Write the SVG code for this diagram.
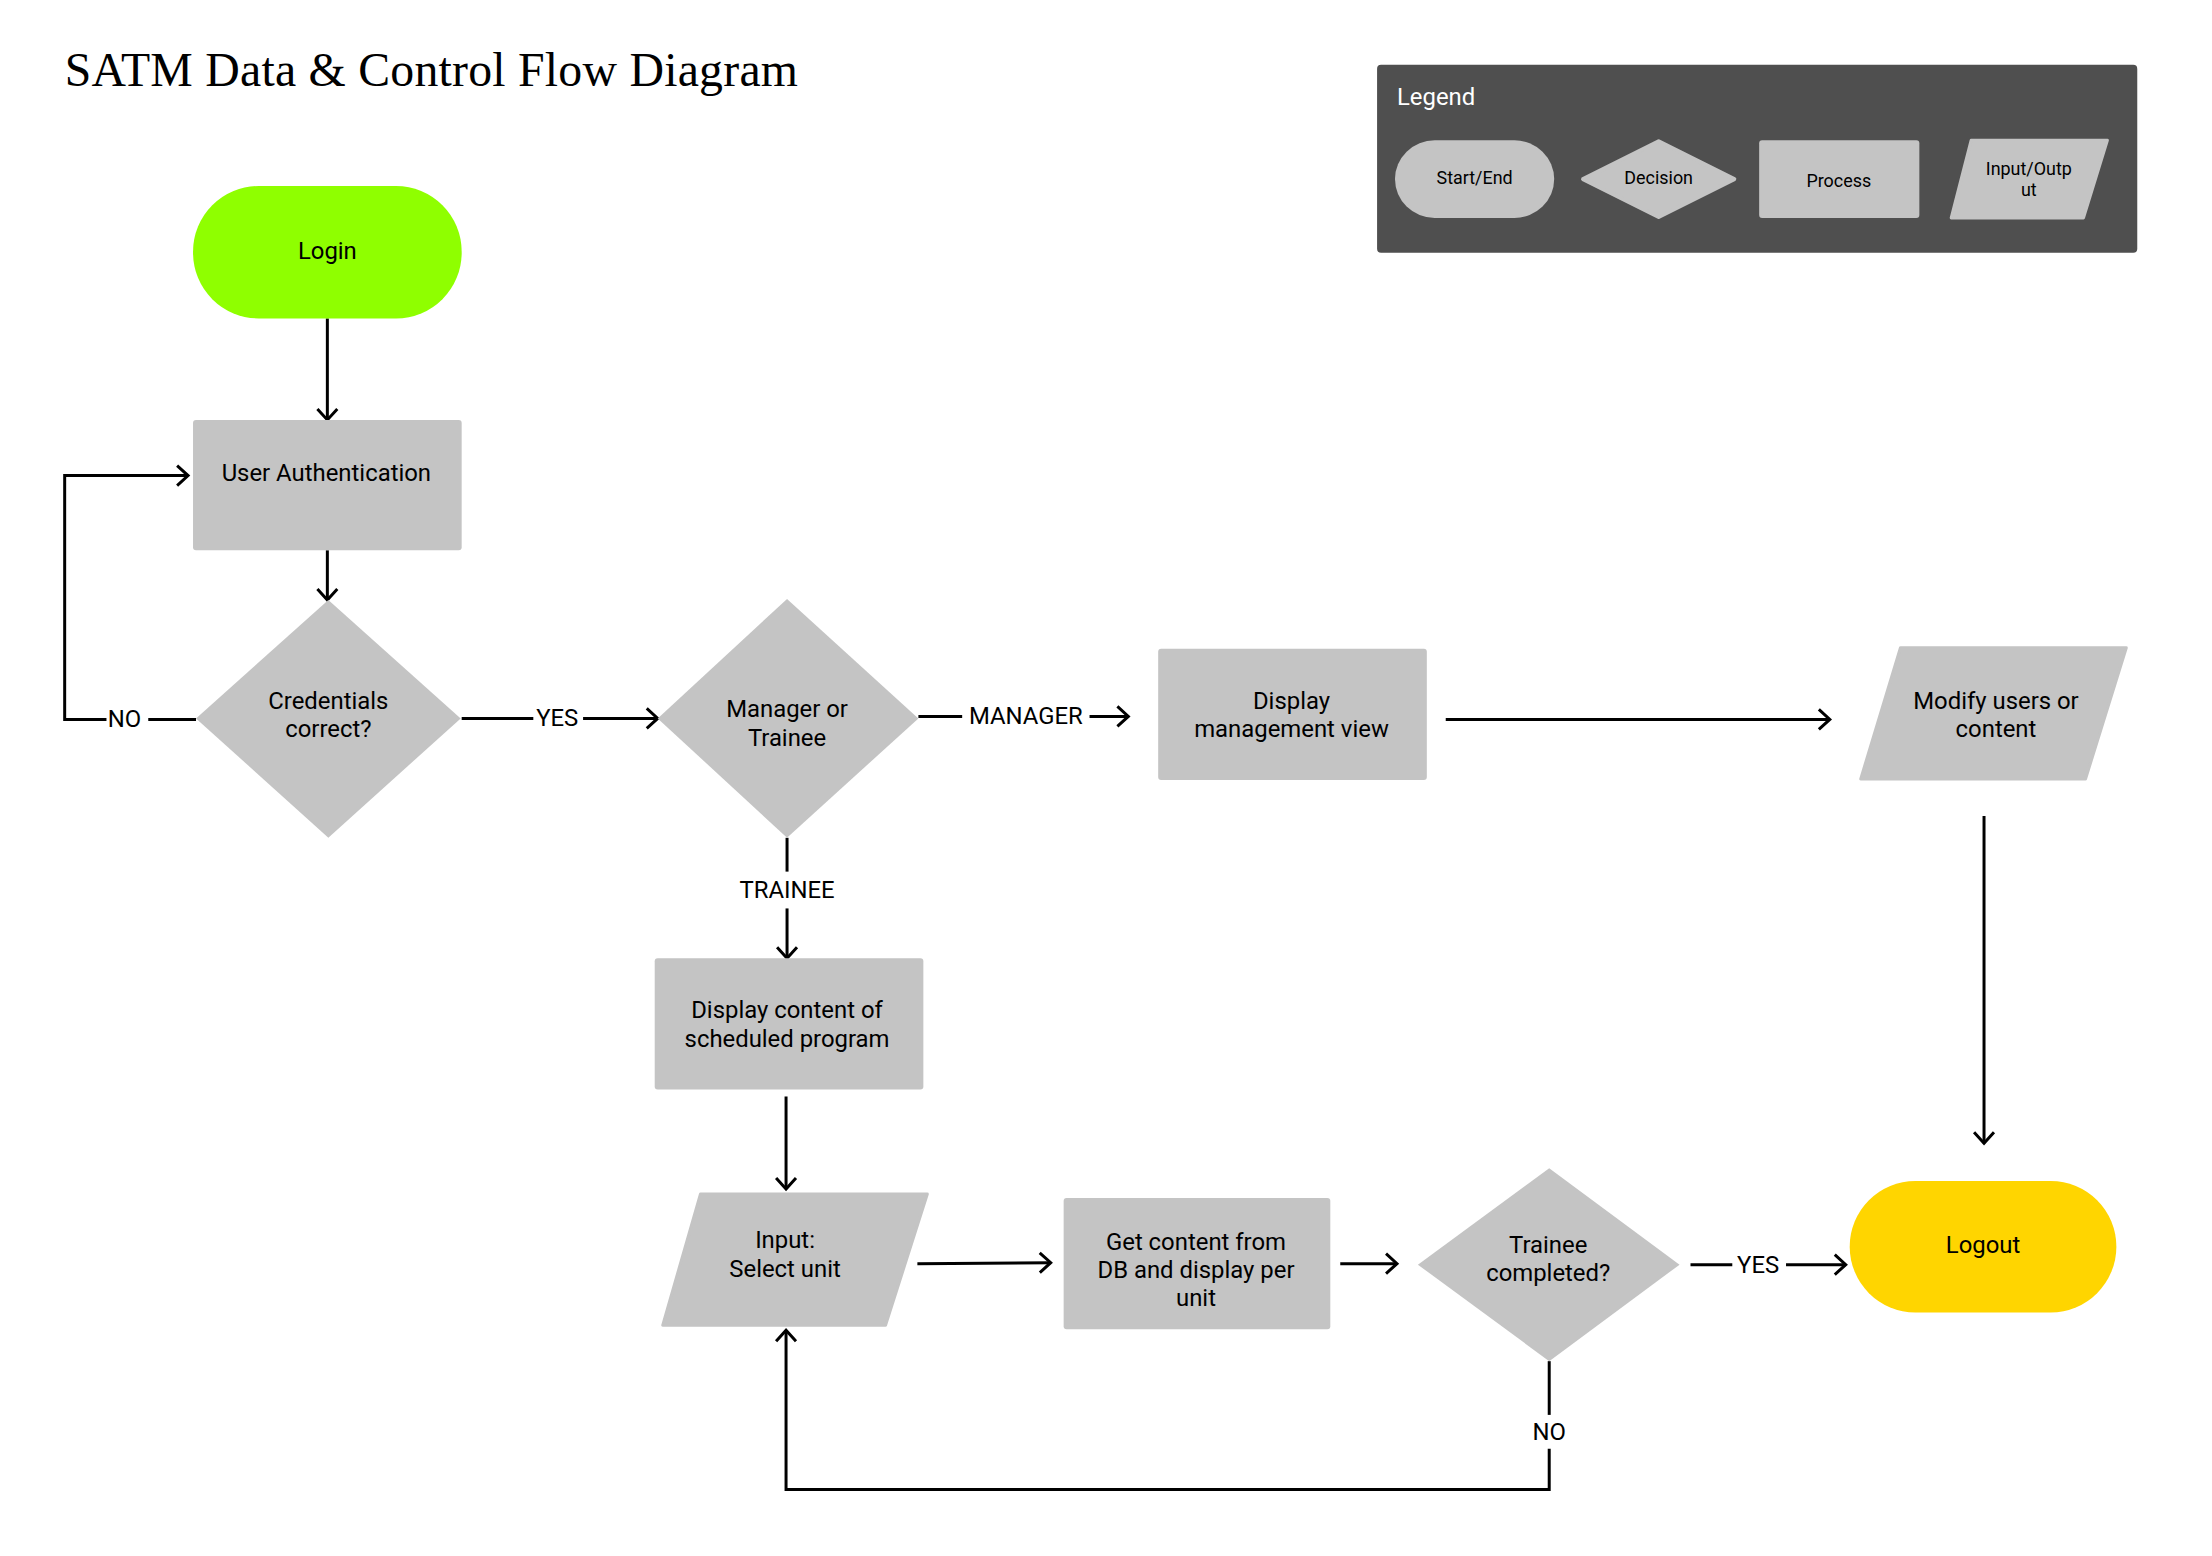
<svg xmlns="http://www.w3.org/2000/svg" width="2212" height="1556" viewBox="0 0 2212 1556">
<style>
.node{fill:#C4C4C4;}
.t{font-family:Roboto,"Liberation Sans",sans-serif;font-size:24px;fill:#000;text-anchor:middle;}
.lt{font-family:Roboto,"Liberation Sans",sans-serif;font-size:18px;fill:#000;text-anchor:middle;}
.c{fill:none;stroke:#000;stroke-width:3;}
</style>
<defs>
<marker id="arr" markerUnits="userSpaceOnUse" markerWidth="30" markerHeight="30" viewBox="-15 -15 30 30" refX="0" refY="0" orient="auto">
<path d="M-11,-10 L0,0 L-11,10" fill="none" stroke="#000" stroke-width="3"/>
</marker>
</defs>
<rect width="2212" height="1556" fill="#fff"/>
<g transform="scale(0.995)">
<text x="65" y="86" font-family="'Liberation Serif',serif" font-size="48" textLength="737" fill="#000">SATM Data &amp; Control Flow Diagram</text>

<g id="legend">
<rect x="1384" y="65" width="764" height="189" rx="4" fill="#4F4F4F"/>
<text x="1404" y="106" font-family="Roboto,'Liberation Sans',sans-serif" font-size="24" fill="#fff">Legend</text>
<rect x="1402" y="141" width="160" height="78" rx="40" class="node"/>
<text x="1482" y="185" class="lt">Start/End</text>
<polygon points="1591,180 1667,142 1743,180 1667,218" class="node" stroke="#C4C4C4" stroke-width="4" stroke-linejoin="round"/>
<text x="1667" y="185" class="lt">Decision</text>
<rect x="1768" y="141" width="161" height="78" rx="3" class="node"/>
<text x="1848" y="188" class="lt">Process</text>
<polygon points="1981,141 2118,141 2094,219 1961,219" class="node" stroke="#C4C4C4" stroke-width="3" stroke-linejoin="round"/>
<text x="2039" y="176" class="lt">Input/Outp</text>
<text x="2039" y="197" class="lt">ut</text>
</g>

<g id="connectors">
<path class="c" d="M329,320 V422" marker-end="url(#arr)"/>
<path class="c" d="M329,553 V603" marker-end="url(#arr)"/>
<path class="c" d="M197,723 H149"/>
<path class="c" d="M107,723 H65 V478 H189" marker-end="url(#arr)"/>
<text x="125" y="731" class="t">NO</text>
<path class="c" d="M464,722 H536"/>
<path class="c" d="M586,722 H661" marker-end="url(#arr)"/>
<text x="560" y="730" class="t">YES</text>
<path class="c" d="M923,720 H967"/>
<path class="c" d="M1095,720 H1134" marker-end="url(#arr)"/>
<text x="1031" y="728" class="t">MANAGER</text>
<path class="c" d="M1453,723 H1839" marker-end="url(#arr)"/>
<path class="c" d="M1994,820 V1149" marker-end="url(#arr)"/>
<path class="c" d="M791,842 V876"/>
<path class="c" d="M791,913 V963" marker-end="url(#arr)"/>
<text x="791" y="903" class="t">TRAINEE</text>
<path class="c" d="M790,1102 V1195" marker-end="url(#arr)"/>
<path class="c" d="M922,1270 L1056,1269" marker-end="url(#arr)"/>
<path class="c" d="M1347,1270 H1404" marker-end="url(#arr)"/>
<path class="c" d="M1699,1271 H1741"/>
<path class="c" d="M1795,1271 H1855" marker-end="url(#arr)"/>
<text x="1767" y="1279" class="t">YES</text>
<path class="c" d="M1557,1368 V1422"/>
<path class="c" d="M1557,1456 V1497 H790 V1337" marker-end="url(#arr)"/>
<text x="1557" y="1447" class="t">NO</text>
</g>

<g id="login">
<rect x="194" y="187" width="270" height="133" rx="66" fill="#8FFF00"/>
<text x="329" y="260" class="t">Login</text>
</g>
<g id="user-auth">
<rect x="194" y="422" width="270" height="131" rx="3" class="node"/>
<text x="328" y="483" class="t">User Authentication</text>
</g>
<g id="credentials">
<polygon points="197,722 330,603 463,722 330,842" class="node"/>
<text x="330" y="713" class="t">Credentials</text>
<text x="330" y="741" class="t">correct?</text>
</g>
<g id="manager-trainee">
<polygon points="661,722 791,602 923,722 791,842" class="node"/>
<text x="791" y="721" class="t">Manager or</text>
<text x="791" y="750" class="t">Trainee</text>
</g>
<g id="display-mgmt">
<rect x="1164" y="652" width="270" height="132" rx="3" class="node"/>
<text x="1298" y="713" class="t">Display</text>
<text x="1298" y="741" class="t">management view</text>
</g>
<g id="modify">
<polygon points="1910,651 2137,651 2096,783 1870,783" class="node" stroke="#C4C4C4" stroke-width="3" stroke-linejoin="round"/>
<text x="2006" y="713" class="t">Modify users or</text>
<text x="2006" y="741" class="t">content</text>
</g>
<g id="display-content">
<rect x="658" y="963" width="270" height="132" rx="3" class="node"/>
<text x="791" y="1023" class="t">Display content of</text>
<text x="791" y="1052" class="t">scheduled program</text>
</g>
<g id="input-unit">
<polygon points="704,1200 932,1200 890,1332 666,1332" class="node" stroke="#C4C4C4" stroke-width="3" stroke-linejoin="round"/>
<text x="789" y="1254" class="t">Input:</text>
<text x="789" y="1283" class="t">Select unit</text>
</g>
<g id="get-content">
<rect x="1069" y="1204" width="268" height="132" rx="3" class="node"/>
<text x="1202" y="1256" class="t">Get content from</text>
<text x="1202" y="1284" class="t">DB and display per</text>
<text x="1202" y="1313" class="t">unit</text>
</g>
<g id="trainee-completed">
<polygon points="1425,1271 1557,1174 1688,1271 1557,1368" class="node"/>
<text x="1556" y="1259" class="t">Trainee</text>
<text x="1556" y="1287" class="t">completed?</text>
</g>
<g id="logout">
<rect x="1859" y="1187" width="268" height="132" rx="66" fill="#FFD500"/>
<text x="1993" y="1259" class="t">Logout</text>
</g>
</g>
</svg>
